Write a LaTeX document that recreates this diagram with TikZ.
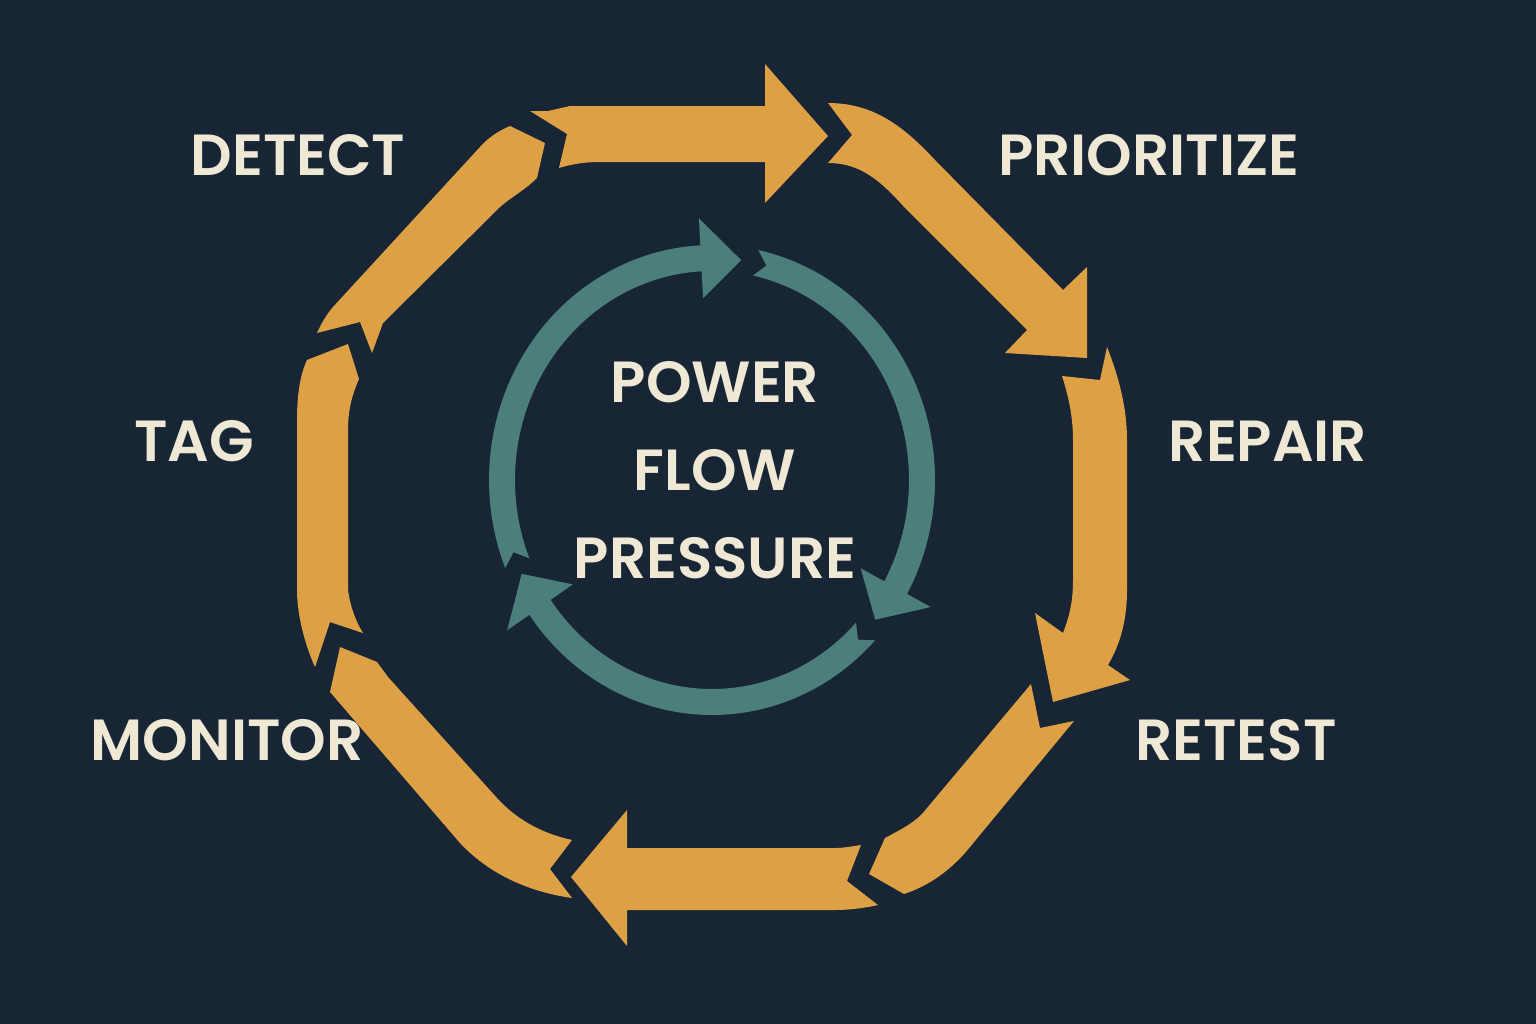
\documentclass[tikz,border=0pt]{standalone}
\usepackage{fontspec}
\setmainfont{Poppins}[BoldFont={Poppins SemiBold}]
\definecolor{navy}{HTML}{172535}
\definecolor{amber}{HTML}{DDA044}
\definecolor{sea}{HTML}{4C7E7A}
\definecolor{cream}{HTML}{EEE8D4}
\tikzset{
    band/.style={fill=amber},
    ring/.style={fill=sea},
    stage/.style={text=cream, inner sep=0pt, font=\fontsize{16.5}{20}\selectfont\bfseries},
    hub/.style={stage, align=center, font=\fontsize{16.5}{25}\selectfont\bfseries}
}
\begin{document}
\begin{tikzpicture}[x=0.01cm, y=-0.01cm]
	\fill[navy] (0,0) rectangle (1536,1024);

	% outer cycle, eight pieces
	\fill[band] (530,111) -- (567,134) -- (559,168) .. controls (572,164) and (585,162) .. (600,162)
		-- (765,162) -- (765,203) -- (828,136) -- (765,64) -- (765,106) -- (570,106) -- (548,111) -- cycle;
	\fill[band] (828,103) .. controls (875,103) and (905,128) .. (935,160) -- (1063,290) -- (1087,267)
		-- (1087,358) -- (1005,353) -- (1027,330) -- (905,208) .. controls (880,180) and (860,163) .. (828,163)
		-- (852,135) -- cycle;
	\fill[band] (1062,376) -- (1100,380) -- (1107,347) .. controls (1120,380) and (1127,410) .. (1127,440)
		-- (1127,590) .. controls (1127,625) and (1118,648) .. (1108,665) -- (1130,680) -- (1053,702)
		-- (1035,613) -- (1063,633) .. controls (1070,615) and (1073,600) .. (1073,580)
		-- (1073,440) .. controls (1073,415) and (1068,395) .. (1062,376) -- cycle;
	\fill[band] (1031,684) -- (1040,728) -- (1074,721) -- (965,853) .. controls (945,875) and (925,887) .. (904,894)
		-- (869,874) -- (885,838) .. controls (900,830) and (912,824) .. (922,814) -- cycle;
	\fill[band] (861,845) -- (847,881) -- (878,905) .. controls (865,908) and (850,910) .. (835,910)
		-- (627,910) -- (627,946) -- (571,877) -- (627,810) -- (627,848) -- (835,848)
		.. controls (845,848) and (853,846) .. (861,845) -- cycle;
	\fill[band] (572,840) -- (550,869) -- (572,898) .. controls (530,892) and (490,875) .. (460,843)
		-- (330,692) -- (340,647) -- (377,662) -- (388,677) -- (497,798)
		.. controls (515,818) and (540,833) .. (572,840) -- cycle;
	\fill[band] (307,360) -- (348,344) -- (359,379) .. controls (352,395) and (348,410) .. (348,430)
		-- (348,590) .. controls (350,605) and (355,620) .. (363,633) -- (330,622) -- (315,667)
		.. controls (305,645) and (297,615) .. (297,590) -- (297,420) .. controls (297,395) and (300,375) .. (307,360) -- cycle;
	\fill[band] (510,126) -- (545,143) -- (537,178) .. controls (525,190) and (510,198) .. (500,207)
		-- (383,323) -- (372,353) -- (360,322) -- (317,333) .. controls (322,322) and (327,314) .. (333,307)
		-- (480,147) .. controls (488,138) and (498,131) .. (510,126) -- cycle;

	% inner ring, three arrows
	\begin{scope}[shift={(712,480)}, y=0.01cm]
	\foreach \tl/\bs/\tp in {202/93/82, 78/-29/-39, -43/-145/-155} {
		\fill[ring] (\tl:223 and 235) arc[start angle=\tl, end angle=\bs, x radius=223, y radius=235]
			-- (\bs:250 and 262) -- (\tp:210 and 222) -- (\bs:170 and 182)
			-- (\bs:197 and 209) arc[start angle=\bs, end angle=\tl, x radius=197, y radius=209]
			-- (\tl-3:210 and 222) -- cycle;
	}
	\end{scope}

	\node[stage] (detect) at (298,155) {DETECT};
	\node[stage] (prioritize) at (1149,155) {PRIORITIZE};
	\node[stage] (repair) at (1268,441) {REPAIR};
	\node[stage] (tag) at (194,441) {TAG};
	\node[stage] (monitor) at (227,740) {MONITOR};
	\node[stage] (retest) at (1236,740) {RETEST};
	\node[hub] (core) at (715,470) {POWER\\FLOW\\PRESSURE};
\end{tikzpicture}
\end{document}
